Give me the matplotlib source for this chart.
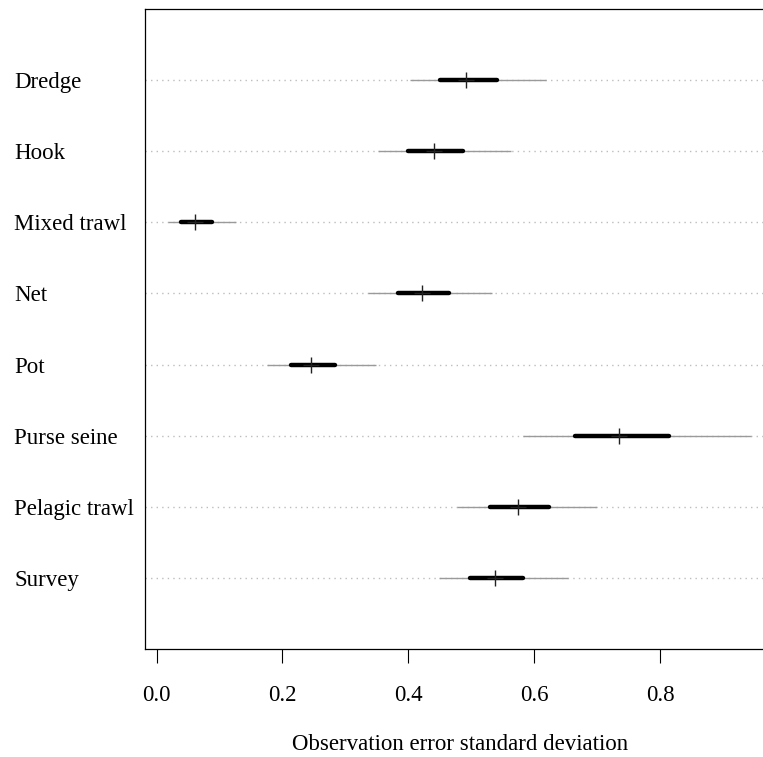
#!/usr/bin/env python3

import matplotlib
matplotlib.use('Agg')
import matplotlib.pyplot as plt
import matplotlib.transforms as mtransforms

# Fleet names, top to bottom
fleets = ['Dredge', 'Hook', 'Mixed trawl', 'Net', 'Pot',
          'Purse seine', 'Pelagic trawl', 'Survey']

# Posterior summaries of the observation error SD
median = [0.492, 0.440, 0.061, 0.422, 0.245, 0.735, 0.574, 0.537]
inner_lo = [0.450, 0.400, 0.039, 0.384, 0.214, 0.664, 0.529, 0.497]
inner_hi = [0.540, 0.487, 0.088, 0.465, 0.283, 0.813, 0.623, 0.582]
outer_lo = [0.403, 0.352, 0.018, 0.336, 0.175, 0.582, 0.477, 0.448]
outer_hi = [0.618, 0.563, 0.126, 0.532, 0.348, 0.944, 0.699, 0.653]

xticks = [0.0, 0.2, 0.4, 0.6, 0.8]

plt.rcParams['font.family'] = ['Liberation Serif', 'DejaVu Serif']

W, H = 763, 757
fig = plt.figure(figsize=(W / 100, H / 100), dpi=100)

# plot region in pixels: left 145, top 9, bottom 649, runs off the right edge
ax = fig.add_axes([145 / W, (H - 649) / H, (W - 145) / W, (649 - 9) / H])

n = len(fleets)
ypos = list(range(n, 0, -1))

for y in ypos:
    ax.axhline(y, color='#bdbdbd', linestyle=(0, (1, 3)), linewidth=1.0, zorder=1)

ax.hlines(ypos, outer_lo, outer_hi, color='#9a9a9a', linewidth=1.0, zorder=2)
ax.hlines(ypos, inner_lo, inner_hi, color='black', linewidth=3.2,
          capstyle='round', zorder=3)
ax.plot(median, ypos, linestyle='none', marker='+', markersize=11.5,
        markeredgewidth=1.0, color='#222222', zorder=4)

ax.set_xlim(-0.0183, 0.963)
ax.set_ylim(0, n + 1)

ax.set_xticks(xticks)
ax.set_xticklabels([f'{t:.1f}' for t in xticks], fontsize=16.5)
ax.tick_params(axis='x', direction='out', length=10, width=0.8, pad=16,
               color='black')
ax.set_yticks([])

for side in ['left', 'top', 'bottom']:
    ax.spines[side].set_linewidth(0.9)
    ax.spines[side].set_color('black')
ax.spines['right'].set_visible(False)

# fleet labels, left aligned at the figure margin
trans = mtransforms.blended_transform_factory(fig.transFigure, ax.transData)
for name, y in zip(fleets, ypos):
    ax.text(14 / W, y, name, transform=trans, ha='left', va='center_baseline',
            fontsize=16.5, clip_on=False)

fig.text(460 / W, 1 - 745 / H, 'Observation error standard deviation',
         ha='center', va='center', fontsize=16.5)

fig.savefig('out.png', dpi=100)
